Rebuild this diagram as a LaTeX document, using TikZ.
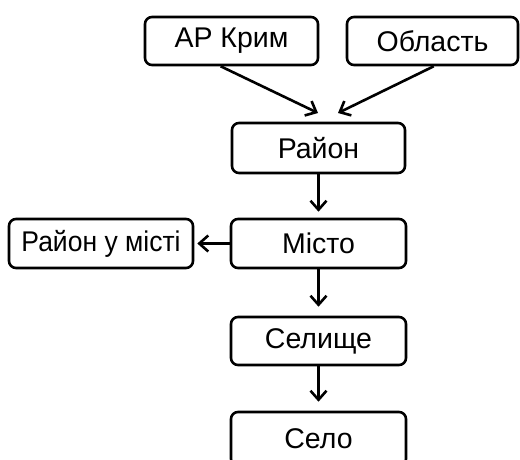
\documentclass[tikz,border=0pt]{standalone}
\usepackage{fontspec}
\setmainfont{Liberation Sans}
\usetikzlibrary{arrows.meta}
\begin{document}
\begin{tikzpicture}[x=1pt,y=1pt,
  box/.style={draw=black,line width=2.6pt,rounded corners=7pt,inner sep=0pt,
    minimum height=48pt,font=\fontsize{28.5}{34}\selectfont},
  conn/.style={line width=2.6pt,-{Straight Barb[length=9pt,width=16pt,line width=2.6pt]}}]
\useasboundingbox (0,0) rectangle (520,459);
\clip (0,0) rectangle (520,459);
\node[box,minimum width=173pt] (krim) at (231.5,418) {АР Крим};
\node[box,minimum width=171pt] (obl) at (432.5,418) {Область};
\node[box,minimum width=173pt,minimum height=50pt] (rajon) at (318.5,311) {Район};
\node[box,minimum width=175pt,minimum height=49pt] (misto) at (318.5,215.5) {Місто};
\node[box,minimum width=184pt,minimum height=49pt] (rum) at (101,215.5) {\scalebox{0.93}[1]{Район у місті}};
\node[box,minimum width=175pt] (sel) at (318.5,118) {Селище};
\node[box,minimum width=175pt,minimum height=54pt] (selo) at (318.5,20) {Село};
\coordinate (t1) at (318,346);
\coordinate (t2) at (338,346);
\draw[conn] (krim.south west) ++(77,0) -- (t1);
\draw[conn] (obl.south west) ++(88,0) -- (t2);
\draw[conn,shorten >=6pt] (rajon.south) -- (misto.north);
\draw[conn,shorten >=3pt] (misto.west) -- (rum.east);
\draw[conn,shorten >=9pt] (misto.south) -- (sel.north);
\draw[conn,shorten >=9pt] (sel.south) -- (selo.north);
\end{tikzpicture}
\end{document}
